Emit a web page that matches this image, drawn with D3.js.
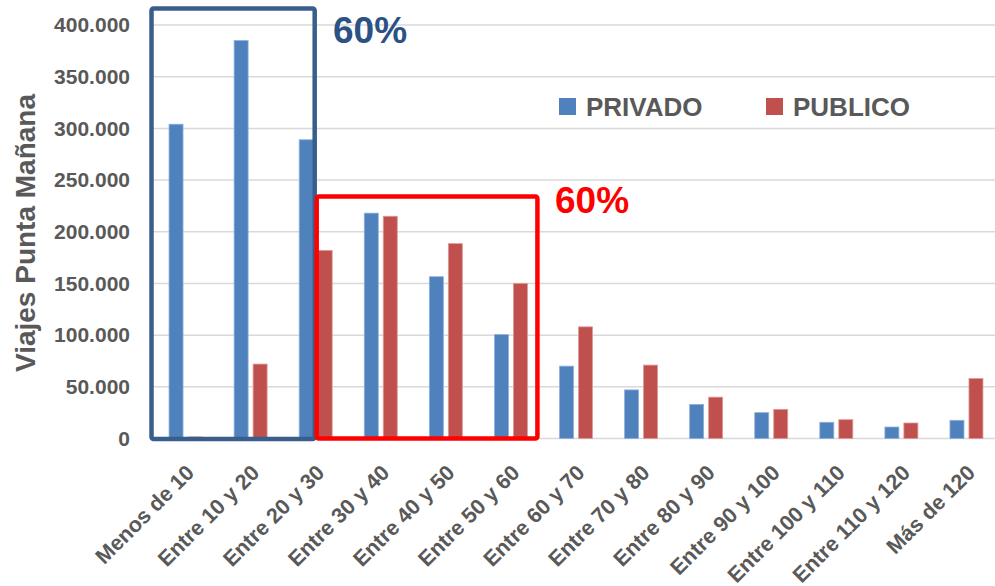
<!DOCTYPE html>
<html>
<head>
<meta charset="utf-8">
<script src="https://cdn.jsdelivr.net/npm/d3@7"></script>
<style>
  html, body { margin: 0; padding: 0; background: #fff; }
  svg { display: block; font-family: "Liberation Sans", Arial, sans-serif; }
</style>
</head>
<body>
<svg id="chart" width="995" height="586"></svg>
<script>
const categories = ["Menos de 10", "Entre 10 y 20", "Entre 20 y 30", "Entre 30 y 40", "Entre 40 y 50", "Entre 50 y 60", "Entre 60 y 70", "Entre 70 y 80", "Entre 80 y 90", "Entre 90 y 100", "Entre 100 y 110", "Entre 110 y 120", "Más de 120"];
const seriesNames = ["PRIVADO", "PUBLICO"];
const privado = [304000, 385000, 289000, 218000, 156500, 100500, 70000, 47000, 33000, 25000, 15700, 11100, 17600];
const publico = [1500, 72000, 182000, 215000, 188500, 150000, 108000, 71000, 40000, 28200, 18200, 15000, 58000];
const yTicks = [0, 50000, 100000, 150000, 200000, 250000, 300000, 350000, 400000];
const annotations = ["60%", "60%"];

const colors = { PRIVADO: "#4F81BD", PUBLICO: "#C0504D" };
const strokes = { PRIVADO: "#8EB0DA", PUBLICO: "#DE9A98" };

const svg = d3.select("#chart");
const plotLeft = 153, plotRight = 999, plotTop = 25, plotBottom = 438.5;

const x0 = d3.scaleBand().domain(categories).range([plotLeft, plotRight]).paddingInner(0.493).paddingOuter(0.2465);
const x1 = d3.scaleBand().domain(seriesNames).range([0, x0.bandwidth()]).paddingInner(0.263);
const y = d3.scaleLinear().domain([0, 400000]).range([plotBottom, plotTop]);

const loc = d3.formatLocale({ decimal: ",", thousands: ".", grouping: [3], currency: ["", ""] });
const fmt = loc.format(",");

// gridlines
svg.append("g").selectAll("line").data(yTicks).join("line")
  .attr("x1", plotLeft).attr("x2", 995)
  .attr("y1", d => y(d)).attr("y2", d => y(d))
  .attr("stroke", "#D9D9D9").attr("stroke-width", 1.5);

// y axis labels
const yAxis = d3.axisLeft(y).tickValues(yTicks).tickFormat(fmt).tickSize(0).tickPadding(0);
const ya = svg.append("g").attr("transform", "translate(130,0)").call(yAxis);
ya.select(".domain").remove();
ya.selectAll("text").attr("font-size", 21).attr("font-weight", "bold").attr("fill", "#595959")
  .attr("font-family", "'Liberation Sans', Arial, sans-serif");

// y title
svg.append("text")
  .attr("transform", "translate(35,233) rotate(-90)")
  .attr("text-anchor", "middle")
  .attr("font-size", 28).attr("font-weight", "bold").attr("fill", "#595959")
  .text("Viajes Punta Mañana");

// bars
const rows = categories.map((c, i) => ({ cat: c, PRIVADO: privado[i], PUBLICO: publico[i] }));
const groups = svg.append("g").selectAll("g").data(rows).join("g")
  .attr("transform", d => `translate(${x0(d.cat)},0)`);
groups.selectAll("rect").data(d => seriesNames.map(s => ({ s, v: d[s] }))).join("rect")
  .attr("x", d => x1(d.s)).attr("width", x1.bandwidth())
  .attr("y", d => y(d.v)).attr("height", d => y(0) - y(d.v))
  .attr("fill", d => colors[d.s])
  .attr("stroke", d => strokes[d.s]).attr("stroke-width", 0.8);

// x labels
const xAxis = svg.append("g");
xAxis.selectAll("text").data(categories).join("text")
  .attr("transform", d => `translate(${x0(d) + x0.bandwidth() / 2 + 10},474) rotate(-45)`)
  .attr("text-anchor", "end")
  .attr("font-size", 21.5).attr("font-weight", "bold").attr("fill", "#595959")
  .text(d => d);

// highlight boxes
const iA = categories.indexOf("Entre 20 y 30");
const iB = categories.indexOf("Entre 50 y 60");
const blueRight = x0(categories[iA]) + x1("PRIVADO") + x1.bandwidth() + 1.5;
svg.append("rect")
  .attr("x", plotLeft - 1.5).attr("y", 8.5)
  .attr("width", blueRight - (plotLeft - 1.5)).attr("height", plotBottom + 0.5 - 8.5)
  .attr("rx", 2).attr("fill", "none").attr("stroke", "#3A5E8C").attr("stroke-width", 4.5);
const redLeft = x0(categories[iA]) + x1("PUBLICO") - 1.5;
const redRight = x0(categories[iB]) + x1("PUBLICO") + x1.bandwidth() + 10;
svg.append("rect")
  .attr("x", redLeft).attr("y", 196.5)
  .attr("width", redRight - redLeft).attr("height", plotBottom - 196.5)
  .attr("rx", 2).attr("fill", "none").attr("stroke", "#FF0000").attr("stroke-width", 4.5);

svg.append("text").attr("x", 333).attr("y", 43)
  .attr("font-size", 37).attr("font-weight", "bold").attr("fill", "#2B5185").text(annotations[0]);
svg.append("text").attr("x", 555).attr("y", 213)
  .attr("font-size", 37).attr("font-weight", "bold").attr("fill", "#FF0000").text(annotations[1]);

// legend
const legendX = [559, 766];
const lg = svg.append("g").selectAll("g").data(seriesNames).join("g")
  .attr("transform", (d, i) => `translate(${legendX[i]},98)`);
lg.append("rect").attr("width", 17).attr("height", 17).attr("fill", d => colors[d]);
lg.append("text").attr("x", 27).attr("y", 17.5)
  .attr("font-size", 26).attr("font-weight", "bold").attr("fill", "#595959").text(d => d);
</script>
</body>
</html>
